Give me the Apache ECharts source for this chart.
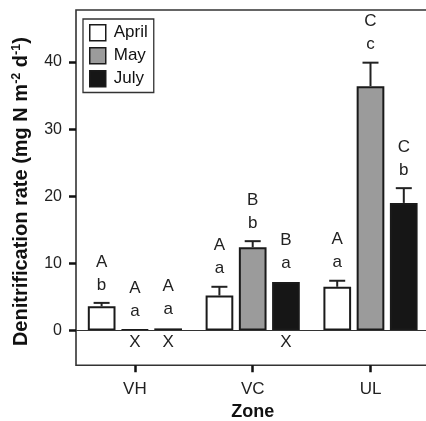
<!DOCTYPE html>
<html>
<head>
<meta charset="utf-8">
<script src="https://cdn.jsdelivr.net/npm/echarts@6/dist/echarts.min.js"></script>
<style>html,body{margin:0;padding:0;background:#fff;}#chart{width:426px;height:421px;}</style>
</head>
<body>
<div id="chart"></div>
<script>
// ---- data ----
const categories = ['VH', 'VC', 'UL'];
const seriesNames = ['April', 'May', 'July'];
const aprilValues = [3.6, 5.2, 6.5];
const mayValues = [0.12, 12.4, 36.4];
const julyValues = [0.3, 7.2, 19.0];
const aprilErrors = [0.5, 1.3, 0.9];
const mayErrors = [0, 0.9, 3.5];
const julyErrors = [0.1, 0.1, 2.2];
const aprilUpper = ['A', 'A', 'A'];
const mayUpper = ['A', 'B', 'C'];
const julyUpper = ['A', 'B', 'C'];
const aprilLower = ['b', 'a', 'a'];
const mayLower = ['a', 'b', 'c'];
const julyLower = ['a', 'a', 'b'];
const aprilBelow = ['', '', ''];
const mayBelow = ['X', '', ''];
const julyBelow = ['X', 'X', ''];
const yTicks = [0, 10, 20, 30, 40];

const FONT = '"Liberation Sans", Arial, Helvetica, sans-serif';
const values = [aprilValues, mayValues, julyValues];
const errors = [aprilErrors, mayErrors, julyErrors];
const uppers = [aprilUpper, mayUpper, julyUpper];
const lowers = [aprilLower, mayLower, julyLower];
const belows = [aprilBelow, mayBelow, julyBelow];
const colors = ['#ffffff', '#9b9b9b', '#161616'];

const BAR_W = 27.7;
const BAR_STEP = 33.3;

const annot = [];
for (let s = 0; s < 3; s++) {
  for (let c = 0; c < categories.length; c++) {
    annot.push({ s: s, c: c, top: values[s][c] + errors[s][c], err: errors[s][c],
      val: values[s][c], up: uppers[s][c], low: lowers[s][c], below: belows[s][c] });
  }
}

const chart = echarts.init(document.getElementById('chart'), null, { renderer: 'canvas' });

const barSeries = seriesNames.map((name, s) => ({
  name: name,
  type: 'bar',
  data: values[s],
  barWidth: BAR_W,
  barGap: '20%',
  itemStyle: { color: colors[s], borderColor: '#1a1a1a', borderWidth: 2 },
  emphasis: { disabled: true },
  z: 3,
  markLine: s === 0 ? {
    silent: true, symbol: ['none', 'none'], label: { show: false },
    lineStyle: { color: '#333', width: 1, type: 'solid' },
    data: [{ yAxis: 0 }], animation: false
  } : undefined
}));

const annotSeries = {
  type: 'custom',
  data: annot.map(a => [a.c, a.top]),
  z: 5,
  silent: true,
  renderItem: function (params, api) {
    const a = annot[params.dataIndex];
    const off = (a.s - 1) * BAR_STEP;
    const pTop = api.coord([a.c, a.top]);
    const pVal = api.coord([a.c, a.val]);
    const p0 = api.coord([a.c, 0]);
    const x = pTop[0] + off;
    const children = [];
    if (a.err > 0.3) {
      children.push({ type: 'line', shape: { x1: x, y1: pVal[1], x2: x, y2: pTop[1] },
        style: { stroke: '#222', lineWidth: 2 } });
      children.push({ type: 'line', shape: { x1: x - 8, y1: pTop[1], x2: x + 8, y2: pTop[1] },
        style: { stroke: '#222', lineWidth: 2 } });
    }
    const txt = (t, y) => ({ type: 'text', style: { text: t, x: x, y: y, align: 'center',
      verticalAlign: 'middle', fill: '#222', fontSize: 17, fontFamily: FONT } });
    children.push(txt(a.low, pTop[1] - 18));
    children.push(txt(a.up, pTop[1] - 41));
    if (a.below) children.push(txt(a.below, p0[1] + 12));
    return { type: 'group', children: children };
  }
};

chart.setOption({
  animation: false,
  backgroundColor: '#fff',
  grid: {
    left: 76, top: 10, width: 353.4, height: 355.3,
    outerBoundsMode: 'none', containLabel: false,
    show: true, borderColor: '#333', borderWidth: 1.6, backgroundColor: 'transparent'
  },
  legend: {
    orient: 'vertical', left: 83, top: 19,
    data: seriesNames,
    itemWidth: 16, itemHeight: 16, itemGap: 5.5,
    padding: [5, 6, 5, 6],
    borderColor: '#333', borderWidth: 1.3,
    icon: 'rect',
    itemStyle: { borderWidth: 1.5, borderColor: '#1a1a1a' },
    textStyle: { fontSize: 17, fontFamily: FONT, color: '#111', padding: [0, 0, 0, 3] }
  },
  xAxis: {
    type: 'category', data: categories,
    axisLine: { show: false, onZero: false },
    axisTick: { show: true, alignWithLabel: true, length: 7, lineStyle: { color: '#111', width: 2.5 } },
    axisLabel: { fontSize: 17, fontFamily: FONT, color: '#222', margin: 16 },
    splitLine: { show: false },
    name: 'Zone', nameLocation: 'middle', nameGap: 37,
    nameTextStyle: { fontSize: 18, fontWeight: 'bold', fontFamily: FONT, color: '#111' }
  },
  yAxis: {
    type: 'value', min: -5.2, max: 47.75,
    axisLine: { show: false },
    splitLine: { show: false },
    axisTick: { show: true, length: 7, customValues: yTicks, lineStyle: { color: '#111', width: 2.5 } },
    axisLabel: { customValues: yTicks, fontSize: 16, fontFamily: FONT, color: '#222', margin: 14 },
    name: '{t|Denitrification rate (mg N m}{s|-2}{t| d}{s|-1}{t|)}',
    nameLocation: 'middle', nameGap: 44, nameRotate: 90,
    nameTextStyle: {
      padding: [0, 8, 0, 0],
      rich: {
        t: { fontSize: 20, fontWeight: 'bold', fontFamily: FONT, color: '#111', lineHeight: 22 },
        s: { fontSize: 12.5, fontWeight: 'bold', fontFamily: FONT, color: '#111', verticalAlign: 'top', lineHeight: 22 }
      }
    }
  },
  series: barSeries.concat([annotSeries])
});
</script>
</body>
</html>
